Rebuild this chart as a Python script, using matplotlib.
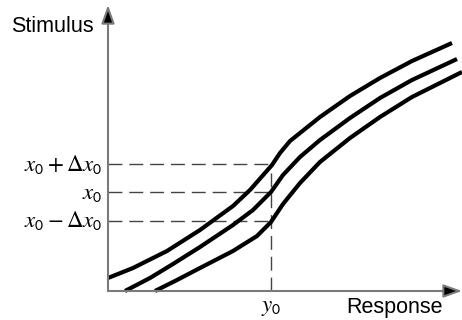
import matplotlib
matplotlib.use("Agg")
import matplotlib.pyplot as plt

plt.rcParams["font.family"] = ["Liberation Sans", "DejaVu Sans"]
plt.rcParams["mathtext.fontset"] = "stix"

# curvas de respuesta (x = respuesta, y = estimulo)
resp_sup = [0, 25, 59, 92, 125, 142, 164, 172, 182, 212, 242, 272, 304, 344]
estim_sup = [13, 23, 40, 61, 85, 101, 126, 138, 150, 174, 195, 213, 230, 248]

resp_med = [17, 42, 65, 92, 125, 145, 163, 175, 192, 212, 242, 272, 304, 349]
estim_med = [0, 13, 27, 44, 66, 81, 99, 116, 134, 151, 173, 193, 211, 232]

resp_inf = [47, 69, 92, 125, 149, 163, 175, 192, 212, 242, 272, 304, 354]
estim_inf = [0, 11, 23, 40, 55, 69, 87, 108, 129, 153, 174, 194, 219]

# niveles del estimulo y respuesta y0
niveles = [127, 99, 70]
etiquetas = [r"$x_{\mathsf{0}}+\Delta x_{\mathsf{0}}$", r"$x_{\mathsf{0}}$",
             r"$x_{\mathsf{0}}-\Delta x_{\mathsf{0}}$"]
y0 = 163

fig = plt.figure(figsize=(4.62, 3.2), dpi=100)
ax = fig.add_axes([0, 0, 1, 1])
ax.set_xlim(-108, 354)
ax.set_ylim(-29, 291)
ax.axis("off")

# ejes con flecha
ax.annotate("", xy=(354, 0), xytext=(0, 0),
            arrowprops=dict(arrowstyle="-|>,head_length=0.7,head_width=0.25",
                            mutation_scale=16, lw=1.5,
                            fc="black", ec="#7a7a7a", shrinkA=0, shrinkB=0))
ax.annotate("", xy=(0, 286), xytext=(0, 0),
            arrowprops=dict(arrowstyle="-|>,head_length=0.7,head_width=0.25",
                            mutation_scale=16, lw=1.5,
                            fc="black", ec="#7a7a7a", shrinkA=0, shrinkB=0))

# lineas de referencia
for nivel, etiqueta in zip(niveles, etiquetas):
    ax.plot([0, y0], [nivel, nivel], color="#444444", lw=1, ls=(0, (10, 5)))
    ax.text(-6, nivel, etiqueta, ha="right", va="center", fontsize=16.5)
ax.plot([y0, y0], [0, niveles[0]], color="#444444", lw=1, ls=(0, (10, 5)))

for r, e in [(resp_sup, estim_sup), (resp_med, estim_med), (resp_inf, estim_inf)]:
    ax.plot(r, e, color="black", lw=3, solid_capstyle="butt",
            solid_joinstyle="round", clip_on=False)

ax.text(y0, -15, r"$y_{\mathsf{0}}$", ha="center", va="center", fontsize=16.5)
ax.text(335, -16, "Response", ha="right", va="center", fontsize=15.5)
ax.text(-56, 265, "Stimulus", ha="center", va="center", fontsize=15.5)

fig.savefig("out.png", dpi=100)
